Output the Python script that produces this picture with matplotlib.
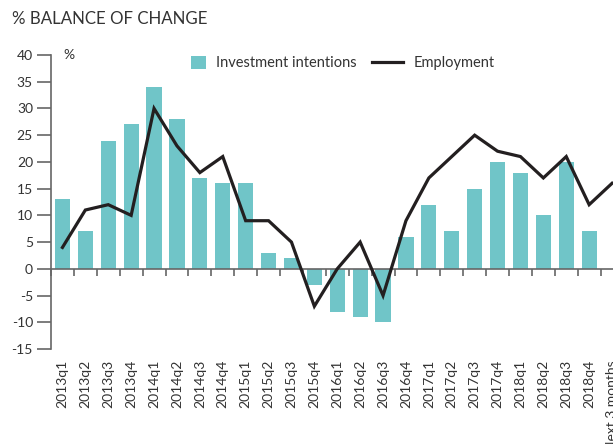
import numpy as np
import matplotlib
matplotlib.use("Agg")
import matplotlib.pyplot as plt

plt.rcParams['font.family'] = ['Lato', 'DejaVu Sans']

categories = ["2013q1", "2013q2", "2013q3", "2013q4", "2014q1", "2014q2", "2014q3", "2014q4",
              "2015q1", "2015q2", "2015q3", "2015q4", "2016q1", "2016q2", "2016q3", "2016q4",
              "2017q1", "2017q2", "2017q3", "2017q4", "2018q1", "2018q2", "2018q3", "2018q4",
              "Next 3 months"]
investment = [13, 7, 24, 27, 34, 28, 17, 16, 16, 3, 2, -3, -8, -9, -10, 6,
              12, 7, 15, 20, 18, 10, 20, 7]
employment = [4, 11, 12, 10, 30, 23, 18, 21, 9, 9, 5, -7, 0, 5, -5, 9,
              17, 21, 25, 22, 21, 17, 21, 12, 16]
yticks = [-15, -10, -5, 0, 5, 10, 15, 20, 25, 30, 35, 40]

TEAL = "#70c5c8"
DARK = "#231f20"
TXT = "#333333"
GRAY = "#666666"

W, H = 613, 444
fig = plt.figure(figsize=(W / 100, H / 100), dpi=100)
left_px, right_px, top_px, bot_px = 51, 51 + 572.5, 55, 349
ax = fig.add_axes([left_px / W, 1 - bot_px / H, (right_px - left_px) / W, (bot_px - top_px) / H])

x_bar = np.arange(len(investment))
x_line = np.arange(len(employment))
bars = ax.bar(x_bar, investment, width=0.66, color=TEAL, label="Investment intentions", zorder=2)
line, = ax.plot(x_line, employment, color=DARK, lw=2.3, label="Employment", zorder=3,
                solid_joinstyle='miter')

ax.set_xlim(-0.5, len(categories) - 0.5)
ax.set_ylim(-15, 40)
ax.set_yticks(yticks)
ax.set_yticklabels([str(v) for v in yticks])

for s in ['top', 'right']:
    ax.spines[s].set_visible(False)
ax.spines['left'].set_color(GRAY)
ax.spines['left'].set_linewidth(1.2)
ax.spines['bottom'].set_position(('data', 0))
ax.spines['bottom'].set_color(GRAY)
ax.spines['bottom'].set_linewidth(1.2)

ax.tick_params(axis='y', direction='out', length=10, width=1.2, color=GRAY, pad=3,
               labelsize=10, labelcolor=TXT)
ax.set_xticks(np.arange(-0.5, len(categories) - 0.5, 1.0))
ax.tick_params(axis='x', direction='out', length=5, width=1.2, color=GRAY, labelbottom=False)

sec = ax.secondary_xaxis('bottom')
sec.set_xticks(np.arange(len(categories)))
sec.set_xticklabels(categories, rotation=90)
sec.tick_params(axis='x', length=0, pad=8, labelsize=10, labelcolor=TXT)
sec.spines['bottom'].set_visible(False)
for lab in sec.get_xticklabels():
    lab.set_verticalalignment('top')

ax.text(12 / (right_px - left_px), 1.0, "%", transform=ax.transAxes, ha='left', va='center',
        fontsize=10, color=TXT)

leg1 = ax.legend(handles=[bars], loc='center left', bbox_to_anchor=((191 - left_px) / (right_px - left_px), 0.973),
                 frameon=False, fontsize=10.5, handlelength=1.0, handleheight=1.0, borderpad=0,
                 borderaxespad=0, handletextpad=0.7, labelcolor=TXT)
ax.add_artist(leg1)
ax.legend(handles=[line], loc='center left', bbox_to_anchor=((372 - left_px) / (right_px - left_px), 0.973),
          frameon=False, fontsize=10.5, handlelength=2.1, borderpad=0, borderaxespad=0,
          handletextpad=0.75, labelcolor=TXT)

fig.text(12 / W, 1 - 19 / H, "% BALANCE OF CHANGE", ha='left', va='center', fontsize=12.2, color=TXT)

fig.savefig("out.png", dpi=100)
